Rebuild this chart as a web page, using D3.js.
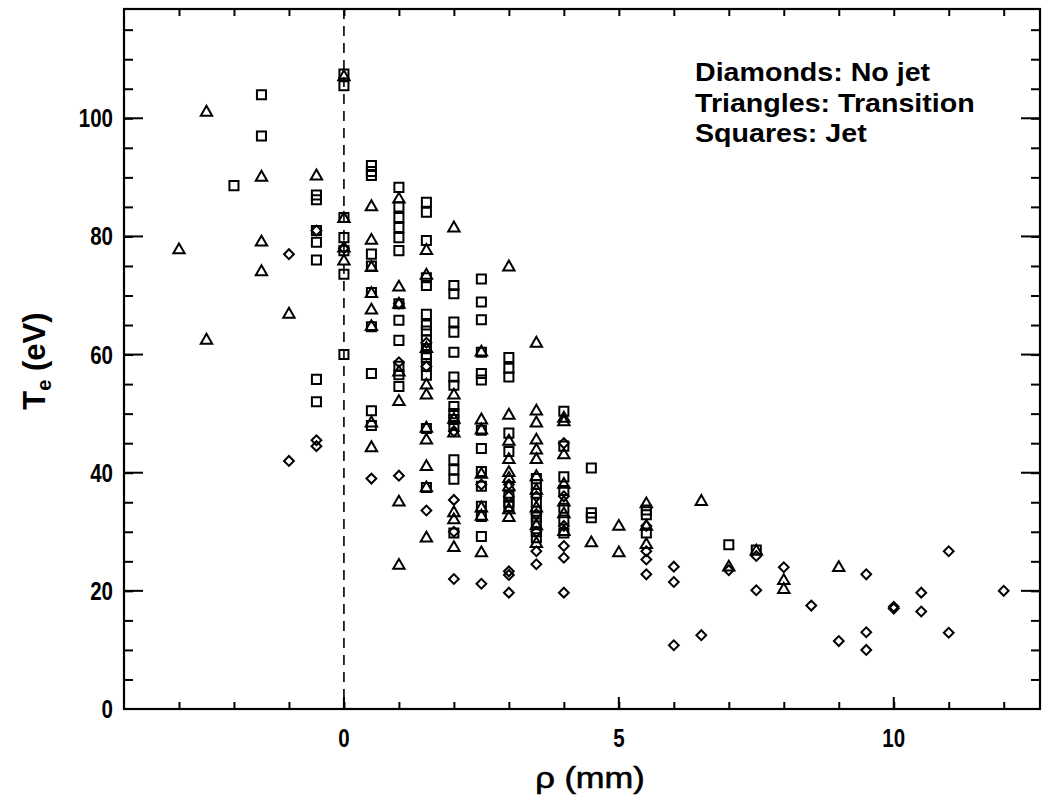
<!DOCTYPE html>
<html lang="en">
<head>
  <meta charset="UTF-8">
  <title>Te vs rho</title>
  <style>
    body { margin: 0; background: #fff; }
    .tick-label { font-family: "Liberation Sans", Arial, sans-serif; font-weight: bold; font-size: 25px; fill: #000; }
    .mark { fill: none; stroke: #000; stroke-width: 2px; }
    .legend { font-family: "Liberation Sans", Arial, sans-serif; font-weight: bold; font-size: 26px; fill: #000; }
  </style>
  <script src="https://d3js.org/d3.v7.min.js"></script>
</head>
<body>
<div id="chart"></div>
<script>
  // [rho (mm), Te (eV)]
  var diamonds = [
    [-1, 77], [-1, 42], [-0.5, 81], [-0.5, 45.5], [-0.5, 44.5], [0, 78],
    [0.5, 39], [1, 68.6], [1, 58.7], [1, 39.5], [1.5, 58], [1.5, 33.6], [1.5, 62],
    [2, 47], [2, 35.4], [2, 30], [2, 22], [2.5, 38], [2.5, 21.2],
    [3, 38], [3, 36], [3, 23.3], [3, 22.7], [3, 19.7],
    [3.5, 36], [3.5, 33], [3.5, 30], [3.5, 26.7], [3.5, 24.5],
    [4, 45], [4, 36], [4, 31], [4, 27.6], [4, 25.6], [4, 19.7],
    [5.5, 31], [5.5, 26.7], [5.5, 25.3], [5.5, 22.8],
    [6, 24.1], [6, 21.5], [6, 10.8], [6.5, 12.5], [7, 23.5],
    [7.5, 25.9], [7.5, 20.1], [8, 24], [8.5, 17.5], [9, 11.5],
    [9.5, 22.8], [9.5, 13], [9.5, 10], [10, 17.3], [10, 17],
    [10.5, 19.7], [10.5, 16.5], [11, 26.7], [11, 12.9], [12, 20]
  ];

  var triangles = [
    [-3, 77.7], [-2.5, 101], [-2.5, 62.4], [-1.5, 90], [-1.5, 79], [-1.5, 74], [-1, 66.8],
    [-0.5, 90.2], [0, 107], [0, 83], [0, 78], [0, 75.8],
    [0.5, 85], [0.5, 79.3], [0.5, 74.7], [0.5, 70.3], [0.5, 67.5], [0.5, 64.7], [0.5, 48.4], [0.5, 44.2],
    [1, 86.3], [1, 71.4], [1, 68.5], [1, 57], [1, 52], [1, 35], [1, 24.3],
    [1.5, 77.6], [1.5, 73.4], [1.5, 61], [1.5, 54.8], [1.5, 53.1], [1.5, 47.5], [1.5, 45.5],
    [1.5, 41], [1.5, 37.4], [1.5, 28.9],
    [2, 81.4], [2, 53.1], [2, 49], [2, 46.7], [2, 33.2], [2, 32], [2, 27.3],
    [2.5, 60.4], [2.5, 48.9], [2.5, 47.2], [2.5, 39.7], [2.5, 34], [2.5, 32.6], [2.5, 26.4],
    [3, 74.8], [3, 49.7], [3, 45.3], [3, 42.2], [3, 40], [3, 39], [3, 37.6], [3, 33.7], [3, 32.4],
    [3.5, 61.9], [3.5, 50.4], [3.5, 48.4], [3.5, 45.5], [3.5, 43.8], [3.5, 42.2], [3.5, 39.3],
    [3.5, 37], [3.5, 34], [3.5, 31], [3.5, 28],
    [4, 49.2], [4, 48.6], [4, 43], [4, 38], [4, 35], [4, 33], [4, 30],
    [4.5, 28.1], [5, 30.9], [5, 26.4], [5.5, 34.7], [5.5, 30.9], [5.5, 27.8],
    [6.5, 35.1], [7, 24], [7.5, 26.7], [8, 21.7], [8, 20.2], [9, 23.9]
  ];

  var squares = [
    [-2, 88.6], [-1.5, 104], [-1.5, 97],
    [-0.5, 87], [-0.5, 86.2], [-0.5, 81], [-0.5, 79], [-0.5, 76], [-0.5, 55.8], [-0.5, 52],
    [0, 107.5], [0, 105.5], [0, 83.2], [0, 79.8], [0, 77.6], [0, 73.6], [0, 60],
    [0.5, 92], [0.5, 91], [0.5, 90.3], [0.5, 77], [0.5, 75], [0.5, 70.5], [0.5, 64.7],
    [0.5, 56.8], [0.5, 50.5], [0.5, 48],
    [1, 88.3], [1, 85], [1, 83.2], [1, 81.5], [1, 79.8], [1, 77.6], [1, 68.6], [1, 65.8],
    [1, 62.4], [1, 58], [1, 56.6], [1, 54.6],
    [1.5, 85.8], [1.5, 84.1], [1.5, 79.3], [1.5, 73], [1.5, 71.7], [1.5, 66.8], [1.5, 65],
    [1.5, 64], [1.5, 62.5], [1.5, 61], [1.5, 60], [1.5, 59.5], [1.5, 58], [1.5, 56.5],
    [1.5, 47.5], [1.5, 37.5],
    [2, 71.7], [2, 70.3], [2, 65.5], [2, 63.8], [2, 60.4], [2, 56.2], [2, 54.8], [2, 51.2],
    [2, 50], [2, 49], [2, 48], [2, 42.2], [2, 40.5], [2, 38.9], [2, 29.8],
    [2.5, 72.8], [2.5, 68.9], [2.5, 65.9], [2.5, 60.4], [2.5, 56.8], [2.5, 55.7], [2.5, 47.2],
    [2.5, 44.1], [2.5, 40.2], [2.5, 37.7], [2.5, 34.3], [2.5, 32.6], [2.5, 29.2],
    [3, 59.5], [3, 57.7], [3, 56.2], [3, 46.7], [3, 43.6], [3, 36], [3, 35], [3, 34.3],
    [3.5, 39], [3.5, 38], [3.5, 36.5], [3.5, 35], [3.5, 33.5], [3.5, 32.5], [3.5, 31.5],
    [3.5, 30], [3.5, 29],
    [4, 50.4], [4, 44.5], [4, 39.3], [4, 37], [4, 34], [4, 32], [4, 29.8],
    [4.5, 40.8], [4.5, 33.2], [4.5, 32.4], [5.5, 33.7], [5.5, 32.9], [5.5, 29.8],
    [7, 27.8], [7.5, 26.9]
  ];

  var xTicks = [0, 5, 10];
  var yTicks = [0, 20, 40, 60, 80, 100];
  var legendLines = ["Diamonds: No jet", "Triangles: Transition", "Squares: Jet"];

  var width = 1056, height = 800;
  var mLeft = 124, mRight = 1040, mTop = 9, mBottom = 709;

  var svg = d3.select("#chart").append("svg")
    .attr("width", width)
    .attr("height", height);

  var x = d3.scaleLinear().domain([-4, 12.66]).range([mLeft, mRight]);
  var y = d3.scaleLinear().domain([0, 118.5]).range([mBottom, mTop]);

  // frame with inward ticks on all four sides
  var bottomAxis = d3.axisBottom(x).tickValues(d3.range(-3, 13, 1))
    .tickSize(-7).tickFormat("");
  var topAxis = d3.axisTop(x).tickValues(d3.range(-3, 13, 1))
    .tickSize(-7).tickFormat("");
  var leftAxis = d3.axisLeft(y).tickValues(d3.range(5, 118, 5))
    .tickSize(-9).tickFormat("");
  var rightAxis = d3.axisRight(y).tickValues(d3.range(5, 118, 5))
    .tickSize(-9).tickFormat("");

  function frame(g) {
    g.select(".domain").remove();
    g.selectAll("line").attr("stroke", "#000").attr("stroke-width", 2);
  }

  svg.append("g").attr("transform", `translate(0,${mBottom})`).call(bottomAxis).call(frame);
  svg.append("g").attr("transform", `translate(0,${mTop})`).call(topAxis).call(frame);
  svg.append("g").attr("transform", `translate(${mLeft},0)`).call(leftAxis).call(frame);
  svg.append("g").attr("transform", `translate(${mRight},0)`).call(rightAxis).call(frame);

  // longer major ticks
  var major = svg.append("g").attr("stroke", "#000").attr("stroke-width", 2);
  xTicks.forEach(v => {
    major.append("line").attr("x1", x(v)).attr("x2", x(v)).attr("y1", mBottom).attr("y2", mBottom - 12);
  });
  yTicks.forEach(v => {
    major.append("line").attr("x1", mLeft).attr("x2", mLeft + 19).attr("y1", y(v)).attr("y2", y(v));
    major.append("line").attr("x1", mRight).attr("x2", mRight - 19).attr("y1", y(v)).attr("y2", y(v));
  });

  svg.append("rect")
    .attr("x", mLeft).attr("y", mTop)
    .attr("width", mRight - mLeft).attr("height", mBottom - mTop)
    .attr("fill", "none").attr("stroke", "#000").attr("stroke-width", 2.2);

  // tick labels (tall, narrow face like the original)
  svg.append("g").selectAll("text").data(xTicks).enter().append("text")
    .attr("class", "tick-label")
    .attr("text-anchor", "middle")
    .attr("transform", d => `translate(${x(d)},${mBottom + 38}) scale(0.82,1)`)
    .text(d => d);

  svg.append("g").selectAll("text").data(yTicks).enter().append("text")
    .attr("class", "tick-label")
    .attr("text-anchor", "end")
    .attr("transform", d => `translate(${mLeft - 11},${y(d) + 9}) scale(0.82,1)`)
    .text(d => d);

  // dashed line at rho = 0
  svg.append("line")
    .attr("x1", x(0)).attr("x2", x(0))
    .attr("y1", mTop).attr("y2", mBottom)
    .attr("stroke", "#000").attr("stroke-width", 1.6)
    .attr("stroke-dasharray", "10,7");

  // markers
  var sq = d3.symbol().type(d3.symbolSquare).size(82);
  var tri = d3.symbol().type(d3.symbolTriangle).size(56);
  var dia = d3.symbol().type(d3.symbolSquare).size(48);

  svg.append("g").selectAll("path").data(diamonds).enter().append("path")
    .attr("class", "mark")
    .attr("d", dia)
    .attr("transform", d => `translate(${x(d[0])},${y(d[1])}) rotate(45)`);

  svg.append("g").selectAll("path").data(triangles).enter().append("path")
    .attr("class", "mark")
    .attr("d", tri)
    .attr("transform", d => `translate(${x(d[0])},${y(d[1])})`);

  svg.append("g").selectAll("path").data(squares).enter().append("path")
    .attr("class", "mark")
    .attr("d", sq)
    .attr("transform", d => `translate(${x(d[0])},${y(d[1])})`);

  // legend text
  svg.append("g").selectAll("text").data(legendLines).enter().append("text")
    .attr("class", "legend")
    .attr("transform", (d, i) => `translate(695,${81 + i * 30.5}) scale(1.1,1)`)
    .text(d => d);

  // axis titles
  var yTitle = svg.append("text")
    .attr("transform", `translate(45,${(mTop + mBottom) / 2 + 2}) rotate(-90)`)
    .attr("text-anchor", "middle")
    .attr("font-family", "Liberation Sans, Arial, sans-serif")
    .attr("font-weight", "bold")
    .attr("font-size", 31);
  yTitle.append("tspan").text("T");
  yTitle.append("tspan").attr("font-size", 20).attr("dy", 6).text("e");
  yTitle.append("tspan").attr("dy", -6).text(" (eV)");

  svg.append("text")
    .attr("transform", "translate(590,788) scale(1.15,1)")
    .attr("text-anchor", "middle")
    .attr("font-family", "Liberation Sans, Arial, sans-serif")
    .attr("font-size", 30)
    .attr("stroke", "#000").attr("stroke-width", 0.6)
    .text("ρ (mm)");
</script>
</body>
</html>
